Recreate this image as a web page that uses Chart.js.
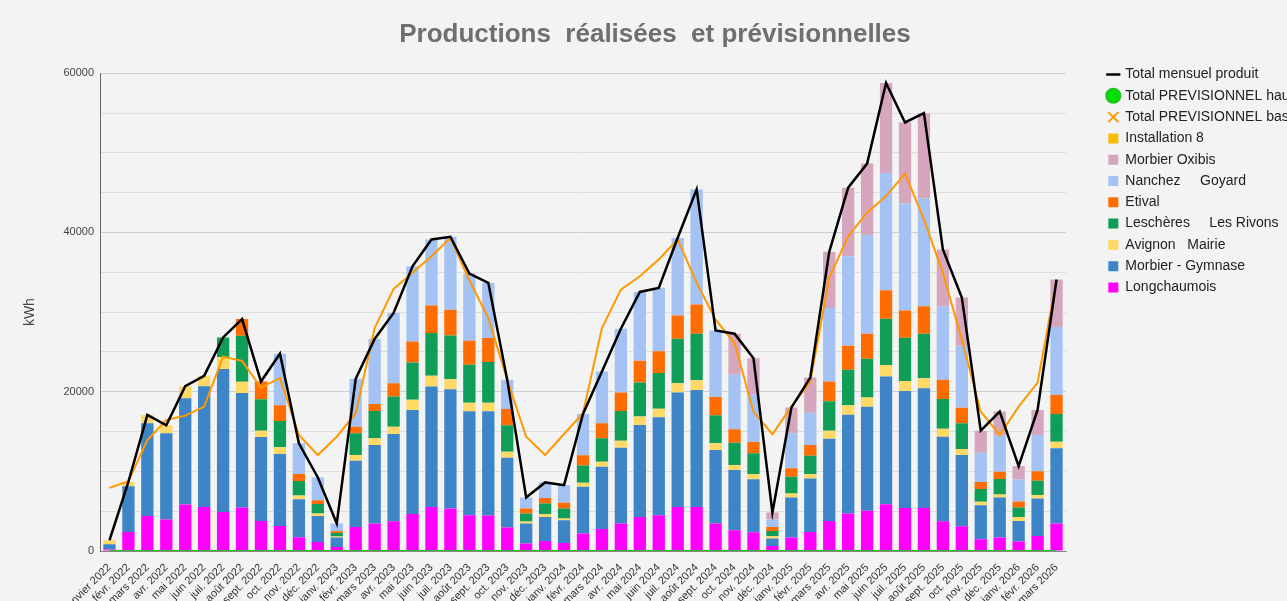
<!DOCTYPE html>
<html>
<head>
<meta charset="utf-8">
<script src="https://cdn.jsdelivr.net/npm/chart.js@4/dist/chart.umd.min.js"></script>
<style>
  body { margin: 0; background: #f3f3f3; }
  #wrap { width: 1287px; height: 601px; position: relative; background: #f3f3f3; overflow: hidden; }
</style>
</head>
<body>
<div id="wrap"><canvas id="chart"></canvas></div>
<script>
const months = [
  'janvier 2022', 'févr. 2022', 'mars 2022', 'avr. 2022', 'mai 2022', 'juin 2022', 'juil. 2022', 'août 2022', 'sept. 2022', 'oct. 2022', 'nov. 2022', 'déc. 2022',
  'janv. 2023', 'févr. 2023', 'mars 2023', 'avr. 2023', 'mai 2023', 'juin 2023', 'juil. 2023', 'août 2023', 'sept. 2023', 'oct. 2023', 'nov. 2023', 'déc. 2023',
  'janv. 2024', 'févr. 2024', 'mars 2024', 'avr. 2024', 'mai 2024', 'juin 2024', 'juil. 2024', 'août 2024', 'sept. 2024', 'oct. 2024', 'nov. 2024', 'déc. 2024',
  'janv. 2025', 'févr. 2025', 'mars 2025', 'avr. 2025', 'mai 2025', 'juin 2025', 'juil. 2025', 'août 2025', 'sept. 2025', 'oct. 2025', 'nov. 2025', 'déc. 2025',
  'janv. 2026', 'févr. 2026', 'mars 2026'
];

// totals (kWh)
const totalProduit = [1350, 8690, 17090, 15790, 20700, 21990, 26820, 29130, 21280, 24770, 13520, 9240,
  3450, 21620, 26620, 29890, 35760, 39120, 39460, 34840, 33670, 21490, 6720, 8610,
  8270, 17210, 22540, 27910, 32530, 33040, 39330, 45410, 27700, 27280, 24220, 4830,
  18000, 21780, 37570, 45630, 48650, 58760, 53810, 54980, 37860, 31820, 15110, 17500,
  10660, 17710, 34080];
const prevHaut = [0, 0, 0, 0, 0, 0, 0, 0, 0, 0, 0, 0,
  0, 0, 0, 0, 0, 0, 0, 0, 0, 0, 0, 0,
  0, 0, 0, 0, 0, 0, 0, 0, 0, 0, 0, 0,
  0, 0, 0, 0, 0, 0, 0, 0, 0, 0, 0, 0,
  0, 0, 0];
const prevBas = [7930, 8780, 13940, 16460, 17000, 18130, 24400, 23880, 20520, 21710, 14570, 12050,
  14350, 17300, 28000, 32910, 34930, 37020, 39300, 34000, 29260, 21490, 14350, 12050,
  14690, 17300, 28000, 32820, 34500, 36600, 39120, 33670, 29040, 26110, 17500, 14660,
  18130, 21280, 34300, 39530, 42480, 44570, 47390, 41640, 34930, 26530, 17500, 14570,
  18130, 21150, 34080];

// installations, bottom of the stack first
const longchaumois = [200, 2390, 4410, 3950, 5840, 5540, 4910, 5460, 3780, 3150, 1730, 1130,
  500, 3020, 3450, 3740, 4660, 5540, 5340, 4500, 4460, 2950, 930, 1260,
  1010, 2190, 2770, 3450, 4280, 4500, 5540, 5540, 3450, 2610, 2350, 630,
  1690, 2390, 3780, 4710, 5040, 5880, 5410, 5410, 3740, 3110, 1470, 1690,
  1180, 1890, 3450];
const morbierGymnase = [640, 5750, 11630, 10830, 13350, 15160, 17930, 14390, 10540, 9030, 4780, 3270,
  1180, 8310, 9860, 10950, 13060, 15110, 14980, 13050, 13090, 8760, 2520, 3020,
  2860, 5870, 7810, 9520, 11550, 12300, 14350, 14690, 9230, 7550, 6670, 930,
  5040, 6720, 10320, 12410, 13060, 16030, 14690, 15030, 10610, 8940, 4280, 5040,
  2590, 4710, 9440];
const avignon = [510, 540, 1050, 1010, 1510, 1300, 1510, 1390, 790, 840, 470, 300,
  130, 720, 840, 920, 1260, 1350, 1260, 1080, 1080, 760, 250, 340,
  210, 500, 630, 880, 1050, 1050, 1180, 1220, 840, 630, 630, 290,
  500, 540, 1010, 1180, 1170, 1440, 1260, 1260, 1010, 760, 420, 380,
  500, 420, 830];
const lescheres = [0, 0, 0, 0, 0, 0, 2470, 5790, 3950, 3310, 1800, 1210,
  450, 2730, 3440, 3780, 4700, 5380, 5490, 4750, 5090, 3320, 1010, 1350,
  1260, 2190, 2950, 3740, 4280, 4500, 5580, 5830, 3530, 2810, 2610, 670,
  2090, 2300, 3700, 4450, 4870, 5830, 5410, 5580, 3740, 3240, 1600, 1930,
  1180, 1800, 3490];
const etival = [0, 0, 0, 0, 0, 0, 0, 2100, 2220, 1980, 880, 470,
  210, 830, 880, 1690, 2640, 3440, 3240, 3020, 3020, 2050, 630, 670,
  710, 1260, 1890, 2300, 2730, 2720, 2930, 3690, 2300, 1690, 1420, 500,
  1060, 1350, 2470, 3020, 3150, 3560, 3440, 3440, 2390, 1930, 880, 920,
  760, 1180, 2390];
const nanchez = [0, 0, 0, 0, 0, 0, 0, 0, 0, 6460, 3860, 2860,
  970, 6010, 8150, 8810, 9440, 8310, 9150, 8440, 6920, 3650, 1390, 1980,
  2230, 5200, 6500, 8020, 8650, 7980, 9740, 14440, 8350, 6840, 6010, 930,
  4410, 4070, 9240, 11240, 12380, 14730, 13430, 13560, 9230, 7800, 3690, 4500,
  2770, 4570, 8520];
const morbierOxibis = [0, 0, 0, 0, 0, 0, 0, 0, 0, 0, 0, 0,
  0, 0, 0, 0, 0, 0, 0, 0, 0, 0, 0, 0,
  0, 0, 0, 0, 0, 0, 0, 0, 0, 5160, 4530, 880,
  3220, 4410, 7050, 8610, 8990, 11290, 10160, 10700, 7140, 6040, 2770, 3060,
  1680, 3150, 5960];
const installation8 = [];

const yTicks = [0, 20000, 40000, 60000];

Chart.defaults.font.family = "'Liberation Sans', Arial, sans-serif";
Chart.defaults.color = '#333';

// put legend / title where the sheet puts them
const nudge = {
  id: 'nudge',
  afterLayout(chart) {
    const lg = chart.legend;
    lg.left = chart.chartArea.right + 35;
    lg.right = chart.width + 60;
    lg.width = lg.right - lg.left;
    lg.top -= 13; lg.bottom -= 13;
    chart.titleBlock.left += 37; chart.titleBlock.right += 37;
  }
};

const bar = (label, data, color) => ({
  type: 'bar', label: label, data: data, backgroundColor: color, borderWidth: 0,
  pointStyle: 'rect', barPercentage: 0.65, categoryPercentage: 1
});

const ctx = document.getElementById('chart');
new Chart(ctx, {
  data: {
    labels: months,
    datasets: [
      { type: 'line', label: 'Total mensuel produit', data: totalProduit, stack: 'a',
        borderColor: '#000', backgroundColor: '#000', borderWidth: 2.5, tension: 0,
        pointRadius: 0, pointStyle: 'line' },
      { type: 'line', label: 'Total PREVISIONNEL haut', data: prevHaut, stack: 'b',
        borderColor: '#22c322', backgroundColor: '#00e000', borderWidth: 2, tension: 0,
        pointRadius: 0, pointStyle: 'circle' },
      { type: 'line', label: 'Total PREVISIONNEL bas', data: prevBas, stack: 'c',
        borderColor: '#ff9900', backgroundColor: '#ff9900', borderWidth: 2, tension: 0,
        pointRadius: 0, pointStyle: 'crossRot' },
      bar('Longchaumois', longchaumois, '#ff00ff'),
      bar('Morbier - Gymnase', morbierGymnase, '#3d85c6'),
      bar('Avignon   Mairie', avignon, '#ffd966'),
      bar('Leschères     Les Rivons', lescheres, '#0f9d58'),
      bar('Etival', etival, '#ff6d01'),
      bar('Nanchez     Goyard', nanchez, '#a4c2f4'),
      bar('Morbier Oxibis', morbierOxibis, '#d5a6bd'),
      bar('Installation 8', installation8, '#fbbc04')
    ]
  },
  options: {
    responsive: true,
    maintainAspectRatio: false,
    animation: false,
    layout: { padding: { left: 10, right: 61, top: 0, bottom: 0 } },
    plugins: {
      title: {
        display: true,
        text: 'Productions  réalisées  et prévisionnelles',
        color: '#6f6f6f',
        font: { size: 26, weight: 'bold' },
        padding: { top: 19, bottom: 23 }
      },
      legend: {
        position: 'right',
        align: 'start',
        fullSize: false,
        maxWidth: 160,
        labels: {
          usePointStyle: true,
          boxWidth: 10,
          boxHeight: 10,
          padding: 7.3,
          color: '#222',
          font: { size: 14 },
          sort: (a, b) => {
            const rank = i => (i < 3 ? i : 100 - i);
            return rank(a.datasetIndex) - rank(b.datasetIndex);
          }
        }
      },
      tooltip: { enabled: false }
    },
    scales: {
      x: {
        stacked: true,
        grid: { display: false },
        border: { color: '#888' },
        ticks: { autoSkip: false, maxRotation: 45, minRotation: 45, font: { size: 11 }, color: '#333', padding: 2 },
        afterFit: (scale) => { scale.height = 50; }
      },
      y: {
        stacked: true,
        min: 0,
        max: 60000,
        ticks: {
          stepSize: 5000,
          padding: 6,
          font: { size: 11 },
          color: '#444',
          callback: (v) => (yTicks.includes(v) ? v : '')
        },
        grid: {
          drawTicks: false,
          color: (c) => (c.tick && yTicks.includes(c.tick.value) ? '#cfcfcf' : '#dedede')
        },
        border: { color: '#666' },
        title: { display: true, text: 'kWh', color: '#444', font: { size: 14 }, padding: { top: 12, bottom: 0 } },
        afterFit: (scale) => { scale.width = 90; }
      }
    }
  },
  plugins: [nudge]
});
</script>
</body>
</html>
